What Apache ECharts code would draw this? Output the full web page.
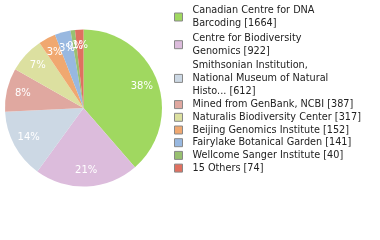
<!DOCTYPE html>
<html><head><meta charset="utf-8">
<script src="https://cdn.jsdelivr.net/npm/echarts@6/dist/echarts.min.js"></script>
<style>html,body{margin:0;padding:0;background:#fff}#c{width:380px;height:240px}</style>
</head><body><div id="c"></div>
<script>
const names = ["Canadian Centre for DNA\nBarcoding", "Centre for Biodiversity\nGenomics", "Smithsonian Institution,\nNational Museum of Natural\nHisto...", "Mined from GenBank, NCBI", "Naturalis Biodiversity Center", "Beijing Genomics Institute", "Fairylake Botanical Garden", "Wellcome Sanger Institute", "15 Others"];
const values = [1664, 922, 612, 387, 317, 152, 141, 40, 74];
const colors = ["#a0d860", "#dcbcdc", "#ccd8e4", "#e0a8a0", "#dce0a0", "#f0a870", "#98b8e0", "#98c070", "#e07060"];
const total = values.reduce((a, b) => a + b, 0);
const data = names.map((n, i) => ({ name: n, value: values[i], itemStyle: { color: colors[i] } }));
const font = "'DejaVu Sans', sans-serif";
const legendData = names.map(n => {
  const lines = n.split('\n').length;
  const pad = lines === 2 ? 1 : (lines === 3 ? 0.5 : 0);
  return { name: n, textStyle: { padding: [pad, 0, pad, 5] } };
});
const chart = echarts.init(document.getElementById('c'), null, { renderer: 'canvas' });
chart.setOption({
  animation: false,
  legend: {
    data: legendData,
    orient: 'vertical', left: 174, top: 3, padding: 0, itemWidth: 8, itemHeight: 8, itemGap: -0.3,
    icon: 'rect',
    itemStyle: { borderColor: '#888', borderWidth: 1 },
    textStyle: { fontFamily: font, fontSize: 9.7, color: '#222', lineHeight: 13, padding: [0, 0, 0, 5] },
    formatter: n => n + ' [' + values[names.indexOf(n)] + ']',
    selectedMode: false
  },
  series: [{
    type: 'pie', center: [83.5, 108], radius: 78.5, startAngle: 90, clockwise: true,
    data: data, label: { show: false }, labelLine: { show: false }, silent: true
  }, {
    type: 'pie', center: [83.5, 108], radius: [40, 78.5], startAngle: 90, clockwise: true,
    data: names.map((n, i) => ({ name: 'lbl' + i, value: values[i] })),
    itemStyle: { color: 'rgba(0,0,0,0)' }, silent: true,
    labelLayout: { hideOverlap: false },
    avoidLabelOverlap: false,
    label: {
      show: true, position: 'inside', color: '#fff', fontFamily: font, fontSize: 10,
      formatter: p => Math.floor(p.value / total * 100) + '%'
    },
    labelLine: { show: false }
  }]
});
</script></body></html>
